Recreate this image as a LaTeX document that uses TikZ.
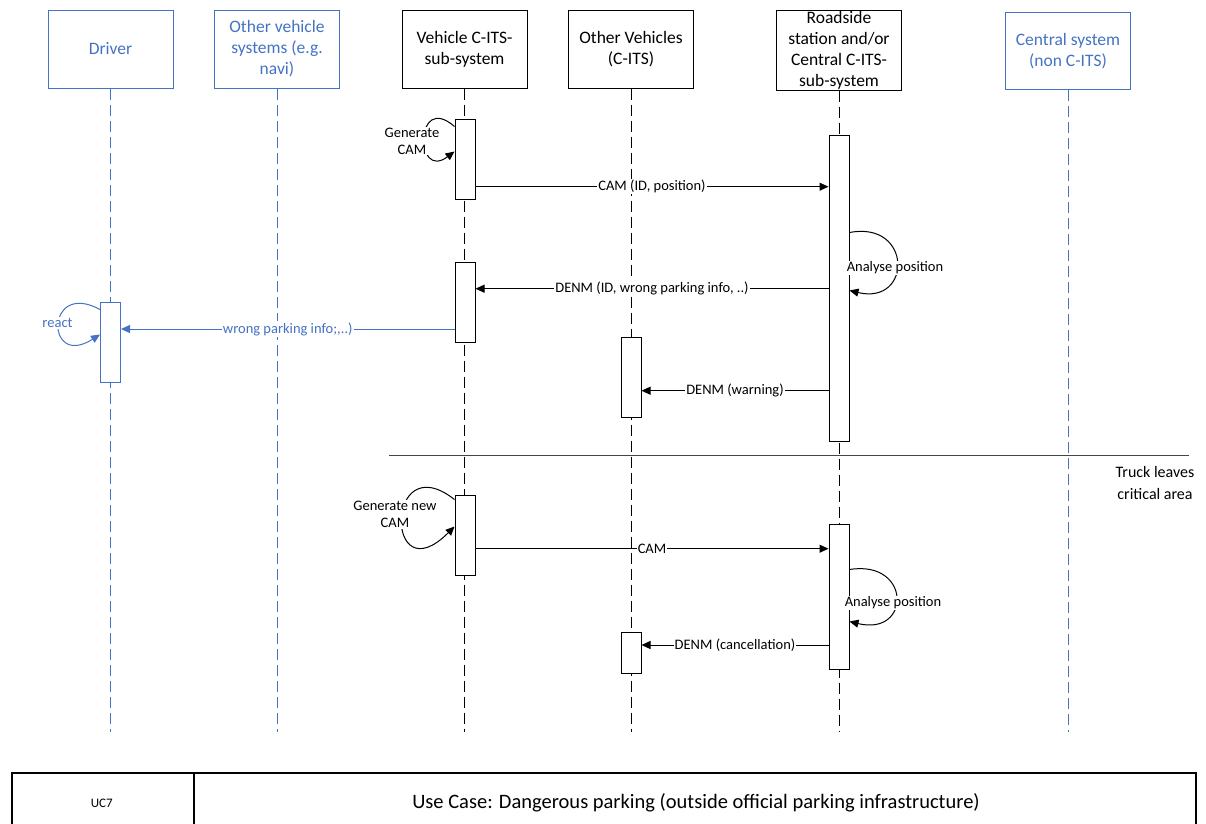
\documentclass[tikz,border=0pt]{standalone}
\usepackage{fontspec}
\setmainfont{Carlito}
\usetikzlibrary{arrows.meta}
\definecolor{visioblue}{RGB}{68,114,196}
\definecolor{rulegray}{RGB}{70,70,70}

\begin{document}
\begin{tikzpicture}[x=1pt,y=-1pt,line width=1pt,
    actor/.style={draw,rectangle,minimum width=125pt,minimum height=78pt,inner sep=0pt,align=center,font=\fontsize{17.5}{21}\selectfont},
    aux/.style={draw=visioblue,text=visioblue},
    life/.style={dash pattern=on 11pt off 5pt},
    act/.style={draw,fill=white,rectangle,minimum width=20pt,inner sep=0pt},
    msg/.style={-{Triangle[length=9pt,width=8pt]}},
    lbl/.style={fill=white,inner sep=1pt,align=center,font=\fontsize{14.5}{17}\selectfont}]
    \useasboundingbox (0,0) rectangle (1206,823);

    % lifeline heads
    \node[actor,aux] (drv) at (110.5,49) {Driver};
    \node[actor,aux] (ovs) at (277,49) {Other vehicle\\systems (e.g.\\navi)};
    \node[actor] (vcs) at (464.5,49) {Vehicle C-ITS-\\sub-system};
    \node[actor] (ovc) at (631,49) {Other Vehicles\\(C-ITS)};
    \node[actor,minimum height=80pt] (rsu) at (839,50) {Roadside\\station and/or\\Central C-ITS-\\sub-system};
    \node[actor,aux,minimum height=77pt] (cen) at (1068,51) {Central system\\(non C-ITS)};

    \coordinate (bottom) at (0,732);
    \foreach \n in {vcs,ovc,rsu}
        \draw[life] (\n) -- (\n |- bottom);
    \foreach \n in {drv,ovs,cen}
        \draw[life,visioblue] (\n) -- (\n |- bottom);

    % activations
    \node[act,minimum height=80pt] (vb1) at (465,159) {};
    \node[act,minimum height=306pt] (rb1) at (839,288) {};
    \node[act,minimum height=80pt] (vb2) at (465,302) {};
    \node[act,minimum height=80pt,draw=visioblue] (db) at (110.5,342) {};
    \node[act,minimum height=80pt] (ob1) at (631,377) {};
    \node[act,minimum height=80pt] (vb3) at (465,535) {};
    \node[act,minimum height=145pt] (rb2) at (839,596.5) {};
    \node[act,minimum height=41pt] (ob2) at (631,652.5) {};

    % message heights
    \coordinate (m1) at (0,186.7);
    \coordinate (m2) at (0,288.7);
    \coordinate (m3) at (0,329);
    \coordinate (m4) at (0,390.7);
    \coordinate (m5) at (0,548.7);
    \coordinate (m6) at (0,645);

    \draw[msg] (vb1.east |- m1) -- node[lbl] {CAM (ID, position)} (rb1.west |- m1);
    \draw[msg] (rb1.west |- m2) -- node[lbl] {DENM (ID, wrong parking info, ..)} (vb2.east |- m2);
    \draw[msg,visioblue] (vb2.west |- m3) -- node[lbl,text=visioblue] {wrong parking info;,..)} (db.east |- m3);
    \draw[msg] (rb1.west |- m4) -- node[lbl] {DENM (warning)} (ob1.east |- m4);
    \draw[msg] (vb3.east |- m5) -- node[lbl] {CAM} (rb2.west |- m5);
    \draw[msg] (rb2.west |- m6) -- node[lbl] {DENM (cancellation)} (ob2.east |- m6);

    % self calls
    \draw[msg] ([yshift=-8pt]vb1.north west) .. controls +(-40,-35) and +(-40,30) .. ([yshift=-33pt]vb1.north west);
    \node[lbl] (gcam) at (412,141) {Generate\\CAM};
    \draw[msg] ([yshift=-98pt]rb1.north east) .. controls +(63,-12) and +(63,15) .. ([yshift=-156pt]rb1.north east);
    \node[lbl] (ana1) at (895,268) {Analyse position};
    \draw[msg,visioblue] ([yshift=-8pt]db.north west) .. controls +(-55,-30) and +(-55,35) .. ([yshift=-33pt]db.north west);
    \node[lbl,text=visioblue] (react) at (57.5,323) {react};
    \draw[msg] ([yshift=-5pt]vb3.north west) .. controls +(-70,-55) and +(-70,70) .. ([yshift=-32pt]vb3.north west);
    \node[lbl] (gnew) at (395,514.5) {Generate new\\CAM};
    \draw[msg] ([yshift=-46pt]rb2.north east) .. controls +(62,-10) and +(62,15) .. ([yshift=-98pt]rb2.north east);
    \node[lbl] (ana2) at (893,603) {Analyse position};

    % phase separator
    \coordinate (sepL) at (389,455.5);
    \coordinate (sepR) at (1189,455.5);
    \draw[rulegray] (sepL) -- (sepR);
    \node[align=center,font=\fontsize{16}{22.3}\selectfont] (truck) at (1155,483) {Truck leaves\\critical area};

    % use case table
    \draw[line width=1.6pt] (11.7,830) |- (1196,773) -- (1196,830);
    \draw[line width=1.6pt] (193.7,773) -- (193.7,830);
    \node[font=\fontsize{13}{15}\selectfont] (uc) at (101.7,803) {UC7};
    \node[font=\fontsize{20.5}{24}\selectfont] (title) at (696,803) {Use Case: Dangerous parking (outside official parking infrastructure)};
\end{tikzpicture}
\end{document}
